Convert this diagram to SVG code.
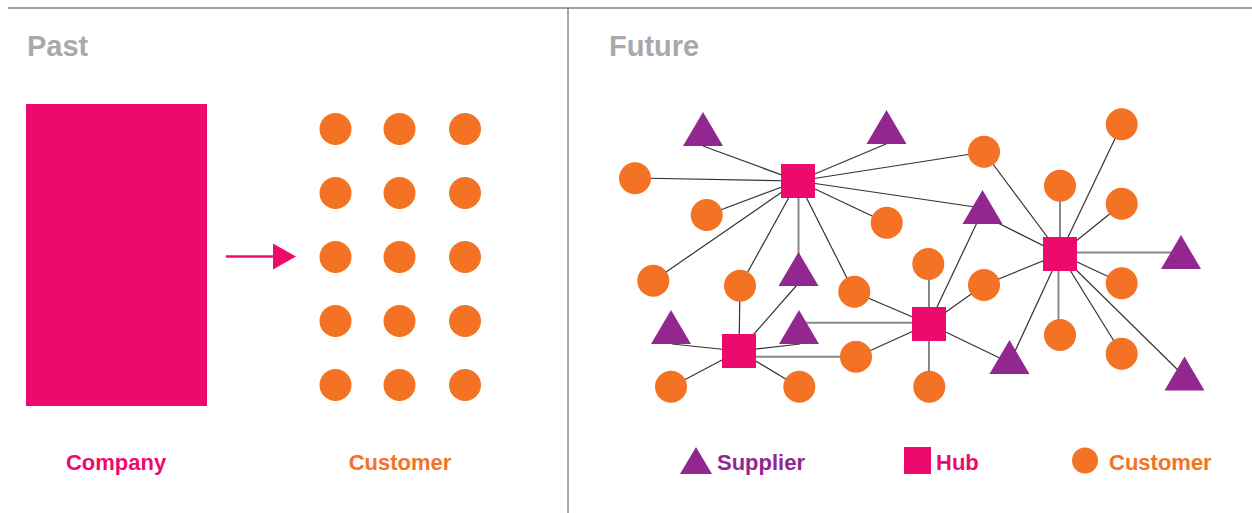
<svg xmlns="http://www.w3.org/2000/svg" width="1252" height="513" viewBox="0 0 1252 513">
<style>
.title{font-family:"Liberation Sans",Arial,sans-serif;font-weight:bold;font-size:29px;fill:#A7A9AC}
.lbl{font-family:"Liberation Sans",Arial,sans-serif;font-weight:bold;font-size:22px}
.cust{fill:#F37224}
.hub{fill:#EC0B6D}
.sup{fill:#92278F}
.ln{stroke:#333;stroke-width:1.2;fill:none}
.hv{stroke:#888;stroke-width:2;fill:none}
</style>
<defs>
<circle id="c" r="16" class="cust"/>
<rect id="h" x="-17" y="-17" width="34" height="34" class="hub"/>
<polygon id="t" points="0,0 20,34 -20,34" class="sup"/>
</defs>
<g id="frame">
<line x1="8" y1="8" x2="1252" y2="8" stroke="#444" stroke-width="1"/>
<line x1="568" y1="8" x2="568" y2="513" stroke="#555" stroke-width="1"/>
</g>
<text class="title" x="27" y="56">Past</text>
<text class="title" x="609" y="56">Future</text>
<g id="company"><rect x="26" y="104" width="181" height="302" class="hub"/>
<text class="lbl" x="116" y="470" text-anchor="middle" fill="#EC0B6D">Company</text></g>
<g id="arrow"><line x1="226" y1="256.5" x2="275" y2="256.5" stroke="#EC0B6D" stroke-width="2.5"/>
<polygon points="273,243.5 296,256.5 273,269.5" fill="#EC0B6D"/></g>
<g id="customers-past">
<use href="#c" x="335.5" y="129"/><use href="#c" x="399.5" y="129"/><use href="#c" x="465" y="129"/>
<use href="#c" x="335.5" y="193"/><use href="#c" x="399.5" y="193"/><use href="#c" x="465" y="193"/>
<use href="#c" x="335.5" y="257"/><use href="#c" x="399.5" y="257"/><use href="#c" x="465" y="257"/>
<use href="#c" x="335.5" y="321"/><use href="#c" x="399.5" y="321"/><use href="#c" x="465" y="321"/>
<use href="#c" x="335.5" y="385"/><use href="#c" x="399.5" y="385"/><use href="#c" x="465" y="385"/>
<text class="lbl" x="400" y="470" text-anchor="middle" fill="#F37224">Customer</text>
</g>
<g id="connectors">
<line class="ln" x1="798" y1="181" x2="703" y2="146"/>
<line class="ln" x1="798" y1="181" x2="886" y2="144"/>
<line class="ln" x1="798" y1="181" x2="635" y2="178"/>
<line class="ln" x1="798" y1="181" x2="707" y2="215"/>
<line class="ln" x1="798" y1="181" x2="887" y2="223"/>
<line class="ln" x1="798" y1="181" x2="984" y2="152"/>
<line class="ln" x1="798" y1="181" x2="982" y2="208"/>
<line class="ln" x1="798" y1="181" x2="653" y2="281"/>
<line class="ln" x1="798" y1="181" x2="740" y2="286"/>
<line class="hv" x1="798.5" y1="181" x2="798.5" y2="260"/>
<line class="ln" x1="798" y1="181" x2="854" y2="292"/>
<line class="ln" x1="1060" y1="254" x2="984" y2="152"/>
<line class="ln" x1="1060" y1="254" x2="1122" y2="124"/>
<line class="hv" x1="1060" y1="254" x2="1060" y2="186"/>
<line class="ln" x1="1060" y1="254" x2="1122" y2="204"/>
<line class="hv" x1="1060" y1="252.5" x2="1181" y2="252.5"/>
<line class="ln" x1="1060" y1="254" x2="982" y2="215"/>
<line class="ln" x1="1060" y1="254" x2="984" y2="285"/>
<line class="ln" x1="1060" y1="254" x2="1010" y2="362"/>
<line class="hv" x1="1058.5" y1="254" x2="1058.5" y2="335"/>
<line class="ln" x1="1060" y1="254" x2="1122" y2="283"/>
<line class="ln" x1="1060" y1="254" x2="1122" y2="354"/>
<line class="ln" x1="1060" y1="254" x2="1184" y2="376"/>
<line class="ln" x1="929" y1="324" x2="929" y2="264"/>
<line class="ln" x1="929" y1="324" x2="929" y2="387"/>
<line class="ln" x1="929" y1="324" x2="982" y2="212"/>
<line class="ln" x1="929" y1="324" x2="984" y2="285"/>
<line class="ln" x1="929" y1="324" x2="1008" y2="362"/>
<line class="ln" x1="929" y1="324" x2="854" y2="292"/>
<line class="hv" x1="800" y1="322.7" x2="929" y2="322.7"/>
<line class="ln" x1="929" y1="324" x2="856" y2="357"/>
<line class="ln" x1="739" y1="351" x2="740" y2="286"/>
<line class="ln" x1="739" y1="351" x2="797" y2="285"/>
<line class="ln" x1="739" y1="351" x2="672" y2="344"/>
<line class="ln" x1="739" y1="351" x2="800" y2="344"/>
<line class="hv" x1="739" y1="356.7" x2="856" y2="356.7"/>
<line class="ln" x1="739" y1="351" x2="671" y2="387"/>
<line class="ln" x1="739" y1="351" x2="799" y2="387"/>
</g>
<g id="suppliers">
<use href="#t" x="703" y="112"/>
<use href="#t" x="886.5" y="110"/>
<use href="#t" x="982.5" y="190"/>
<use href="#t" x="798.5" y="252"/>
<use href="#t" x="1181" y="235"/>
<use href="#t" x="671" y="310"/>
<use href="#t" x="799" y="310"/>
<use href="#t" x="1009.5" y="340"/>
<use href="#t" x="1184.5" y="356.5"/>
</g>
<g id="customers-future">
<use href="#c" x="635" y="178.3"/>
<use href="#c" x="706.7" y="215"/>
<use href="#c" x="886.7" y="222.7"/>
<use href="#c" x="984" y="151.7"/>
<use href="#c" x="1121.7" y="124.3"/>
<use href="#c" x="1060" y="185.7"/>
<use href="#c" x="1121.7" y="203.7"/>
<use href="#c" x="653.3" y="280.7"/>
<use href="#c" x="740" y="285.7"/>
<use href="#c" x="854.3" y="291.7"/>
<use href="#c" x="928.3" y="264"/>
<use href="#c" x="984" y="285"/>
<use href="#c" x="1121.7" y="283.3"/>
<use href="#c" x="1060" y="335"/>
<use href="#c" x="1121.7" y="353.7"/>
<use href="#c" x="856" y="356.7"/>
<use href="#c" x="671" y="386.7"/>
<use href="#c" x="799.3" y="386.7"/>
<use href="#c" x="929.3" y="386.7"/>
</g>
<g id="hubs">
<use href="#h" x="798" y="181"/>
<use href="#h" x="1060" y="254"/>
<use href="#h" x="929" y="324"/>
<use href="#h" x="739" y="351"/>
</g>
<g id="legend">
<polygon points="696,447 712,474 680,474" class="sup"/>
<text class="lbl" x="717" y="470" fill="#92278F">Supplier</text>
<rect x="904" y="447" width="27" height="27" class="hub"/>
<text class="lbl" x="936" y="470" fill="#EC0B6D">Hub</text>
<circle cx="1085" cy="460.5" r="13" class="cust"/>
<text class="lbl" x="1109" y="470" fill="#F37224">Customer</text>
</g>
</svg>
